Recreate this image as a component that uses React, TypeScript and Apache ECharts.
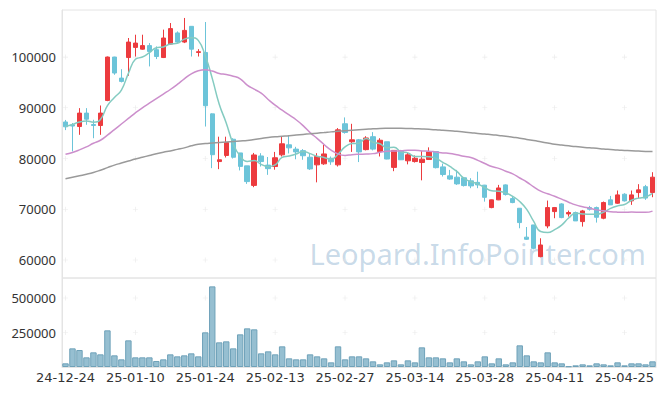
import React, { useEffect, useRef } from "react";
import * as echarts from "echarts";

const dates = [
  "24-12-24", "24-12-26", "24-12-27", "24-12-30", "25-01-02", "25-01-03", "25-01-06", "25-01-07", "25-01-08", "25-01-09",
  "25-01-10", "25-01-13", "25-01-14", "25-01-15", "25-01-16", "25-01-17", "25-01-20", "25-01-21", "25-01-22", "25-01-23",
  "25-01-24", "25-01-31", "25-02-03", "25-02-04", "25-02-05", "25-02-06", "25-02-07", "25-02-10", "25-02-11", "25-02-12",
  "25-02-13", "25-02-14", "25-02-17", "25-02-18", "25-02-19", "25-02-20", "25-02-21", "25-02-24", "25-02-25", "25-02-26",
  "25-02-27", "25-02-28", "25-03-04", "25-03-05", "25-03-06", "25-03-07", "25-03-10", "25-03-11", "25-03-12", "25-03-13",
  "25-03-14", "25-03-17", "25-03-18", "25-03-19", "25-03-20", "25-03-21", "25-03-24", "25-03-25", "25-03-26", "25-03-27",
  "25-03-28", "25-03-31", "25-04-01", "25-04-02", "25-04-03", "25-04-04", "25-04-07", "25-04-08", "25-04-09", "25-04-10",
  "25-04-11", "25-04-14", "25-04-15", "25-04-16", "25-04-17", "25-04-18", "25-04-21", "25-04-22", "25-04-23", "25-04-24",
  "25-04-25", "25-04-28", "25-04-29", "25-04-30", "25-05-02",
];

const opens = [
  87200, 86640, 86300, 88950, 86700, 86500, 91450, 100000, 95850, 99900,
  101900, 101550, 102250, 101450, 99900, 102550, 104750, 102950, 106050, 100900,
  100900, 88800, 79400, 80600, 83800, 81100, 78550, 74700, 80500, 78700,
  78420, 80720, 82700, 81850, 81550, 80250, 78750, 78950, 80050, 78750,
  86850, 83300, 83680, 81750, 84300, 81380, 83300, 78250, 81500, 79550,
  79400, 79210, 79800, 81380, 78350, 76580, 76320, 76200, 75600, 75300,
  74750, 70330, 71850, 74800, 72100, 70200, 64500, 66910, 60660, 66710,
  69540, 71050, 69080, 69350, 67570, 70330, 70330, 68230, 71850, 71190,
  72960, 71650, 73290, 74450, 73290,
];

const closes = [
  86250, 86400, 88950, 87750, 86500, 88950, 100000, 96850, 95200, 102950,
  102750, 102250, 101100, 100100, 103750, 105600, 102950, 105250, 101550, 101050,
  90400, 80750, 79750, 83150, 80250, 78450, 75450, 80700, 79400, 78000,
  80150, 82900, 82100, 81300, 80550, 77950, 80400, 80900, 79350, 85650,
  85130, 83680, 81300, 84050, 81850, 83600, 79900, 81600, 79750, 80720,
  80050, 79870, 81300, 78200, 76850, 75950, 75000, 74670, 74600, 74800,
  72350, 71850, 74200, 72900, 71320, 67370, 64080, 62300, 62960, 70330,
  70330, 68360, 69350, 67700, 69670, 70000, 68420, 71320, 70860, 72830,
  71650, 72830, 73820, 72200, 76320,
];

const lows = [
  85600, 81400, 84670, 86640, 84000, 84670, 91300, 96500, 95000, 96300,
  100100, 101450, 98150, 99600, 99800, 102450, 102750, 102750, 100100, 100100,
  86300, 78100, 77900, 80200, 80000, 77650, 75000, 74350, 78420, 76780,
  77800, 80400, 81000, 79850, 79750, 77750, 75300, 78750, 78750, 78420,
  84900, 81300, 79300, 81600, 81600, 80400, 79850, 77500, 79700, 78850,
  79200, 75700, 79750, 78050, 76450, 75800, 74800, 74480, 74150, 74150,
  71500, 70200, 71800, 72700, 71190, 66250, 63950, 62100, 60530, 66250,
  68230, 68230, 68560, 67700, 66580, 69740, 67370, 68030, 70860, 71060,
  71520, 70860, 72170, 71850, 72370,
];

const highs = [
  87600, 87000, 89930, 89930, 87630, 90450, 100100, 100050, 97600, 103750,
  104400, 104400, 102750, 102100, 105400, 106700, 105050, 107700, 106100, 101550,
  106900, 88900, 84300, 84300, 84000, 81100, 78550, 81100, 81050, 80300,
  81300, 84400, 84600, 82300, 81850, 81000, 81050, 82700, 80400, 86000,
  88100, 86840, 83850, 84400, 85200, 84000, 83300, 81600, 81700, 81100,
  80600, 81500, 82200, 81380, 79000, 77760, 77760, 76300, 76120, 77400,
  74800, 71900, 74800, 74900, 72600, 70200, 66500, 66910, 64280, 71710,
  70400, 71190, 69740, 69540, 69870, 70660, 70530, 71520, 72630, 73690,
  73160, 73690, 74940, 74800, 77300,
];

const volumes = [
  26600, 135200, 123200, 70000, 106300, 91800, 265700, 84500, 55500, 193200,
  70000, 70000, 70000, 43500, 55500, 91800, 77300, 84500, 99000, 77300,
  251200, 584400, 178700, 186000, 135200, 236700, 280100, 272900, 99000, 113500,
  91800, 149700, 62800, 55500, 55500, 91800, 77300, 62800, 33800, 149700,
  55500, 77300, 77300, 62800, 41100, 19300, 33800, 48300, 19300, 48300,
  33800, 142500, 70000, 70000, 62800, 33800, 62800, 41100, 19300, 41100,
  77300, 26600, 62800, 19300, 33800, 157000, 84500, 41100, 33800, 106300,
  33800, 26600, 4800, 12100, 19300, 12100, 26600, 19300, 12100, 33800,
  12100, 26600, 26600, 19300, 41100,
];

const ma5 = [
  86300, 86700, 87200, 87400, 87170, 87710, 90430, 92010, 93500, 96790,
  99550, 100000, 100850, 101830, 101990, 102560, 102700, 103530, 103820, 103280,
  100240, 95800, 90700, 87020, 82860, 80470, 79410, 79600, 78850, 78400,
  78740, 80230, 80510, 80890, 81400, 80960, 80460, 80220, 79830, 80850,
  82286, 82942, 83022, 83962, 83202, 82896, 82140, 82200, 81340, 81114,
  80404, 80398, 80338, 80028, 79254, 78434, 77460, 76134, 75414, 75004,
  74284, 73654, 73560, 73220, 72524, 71528, 69974, 67594, 65606, 65408,
  66000, 66856, 68266, 69214, 69082, 69016, 69028, 69422, 70172, 70666,
  70930, 71772, 72192, 72412, 73112,
];

const ma20 = [
  80850, 81200, 81700, 82300, 83000, 83600, 84600, 85700, 86800, 87900,
  89000, 90000, 90900, 91800, 92700, 93600, 94600, 95700, 96700, 97308,
  97515, 97233, 96773, 96543, 96230, 95705, 94478, 93670, 92880, 91633,
  90503, 89535, 88585, 87645, 86485, 85103, 83975, 82758, 81648, 80878,
  80614, 80761, 80838, 80883, 80963, 81221, 81443, 81488, 81506, 81642,
  81637, 81485, 81445, 81290, 81105, 81005, 80735, 80424, 80186, 79644,
  79005, 78413, 78058, 77501, 76974, 76163, 75372, 74407, 73567, 73048,
  72562, 71986, 71389, 70864, 70505, 70207, 69878, 69711, 69524, 69425,
  69390, 69439, 69420, 69385, 69635,
];

const ma120 = [
  76000, 76300, 76600, 76900, 77250, 77700, 78200, 78700, 79100, 79500,
  79900, 80250, 80600, 80950, 81250, 81500, 81800, 82100, 82500, 82800,
  82950, 83050, 83150, 83250, 83350, 83450, 83550, 83750, 83950, 84150,
  84300, 84400, 84500, 84620, 84750, 84870, 85000, 85120, 85250, 85350,
  85450, 85550, 85650, 85750, 85850, 85920, 85960, 85980, 85960, 85920,
  85870, 85820, 85760, 85680, 85560, 85450, 85350, 85230, 85100, 84950,
  84820, 84700, 84550, 84400, 84200, 84000, 83750, 83550, 83300, 83050,
  82800, 82650, 82500, 82350, 82220, 82100, 82000, 81880, 81780, 81680,
  81600, 81520, 81460, 81400, 81380,
];

const priceTicks = [60000, 70000, 80000, 90000, 100000];
const volumeTicks = [250000, 500000];
const labelStep = 10;

const UP = "#ec3b3e";
const DOWN = "#6cc4d9";
const CROSS = "path://M0,4.3h10v1.4h-10z M4.3,0h1.4v10h-1.4z";

export default function App() {
  const ref = useRef<HTMLDivElement>(null);

  useEffect(() => {
    if (!ref.current) return;
    const chart = echarts.init(ref.current, null, { renderer: "svg" });

    const candles = dates.map((_, i) => [opens[i], closes[i], lows[i], highs[i]]);
    const labelIdx = dates.map((_, i) => i).filter((i) => i % labelStep === 0);
    const priceCross: number[][] = [];
    labelIdx.forEach((i) => priceTicks.forEach((v) => priceCross.push([i, v])));
    const volCross: number[][] = [];
    labelIdx.forEach((i) => volumeTicks.forEach((v) => volCross.push([i, v])));

    const borderColor = "#e4e4e4";
    const plain = (v: number) => String(v);

    const option: any = {
      animation: false,
      backgroundColor: "#ffffff",
      grid: [
        { left: 62, right: 9, top: 10, height: 268, show: true, borderColor, borderWidth: 1 },
        { left: 62, right: 9, top: 278, height: 89, show: true, borderColor, borderWidth: 1 },
      ],
      xAxis: [
        {
          type: "category",
          gridIndex: 0,
          data: dates,
          boundaryGap: true,
          axisLine: { show: false },
          axisTick: { show: false },
          axisLabel: { show: false },
          splitLine: { show: false },
        },
        {
          type: "category",
          gridIndex: 1,
          data: dates,
          boundaryGap: true,
          axisLine: { show: true, lineStyle: { color: borderColor } },
          axisTick: { show: false },
          splitLine: { show: false },
          axisLabel: {
            interval: labelStep - 1,
            color: "#333",
            fontSize: 13,
            fontFamily: "DejaVu Sans",
            margin: 4,
          },
        },
      ],
      yAxis: [
        {
          type: "value",
          gridIndex: 0,
          min: 56450,
          max: 109270,
          splitNumber: 5,
          axisLine: { show: true, lineStyle: { color: borderColor } },
          axisTick: { show: false },
          splitLine: { show: false },
          axisLabel: {
            color: "#333",
            fontSize: 13,
            fontFamily: "Noto Sans",
            margin: 6,
            formatter: plain,
            showMinLabel: false,
            showMaxLabel: false,
          },
        },
        {
          type: "value",
          gridIndex: 1,
          min: 0,
          max: 645000,
          interval: 250000,
          axisLine: { show: true, lineStyle: { color: borderColor } },
          axisTick: { show: false },
          splitLine: { show: false },
          axisLabel: {
            color: "#333",
            fontSize: 13,
            fontFamily: "Noto Sans",
            margin: 6,
            formatter: plain,
            showMinLabel: false,
            showMaxLabel: false,
          },
        },
      ],
      graphic: [
        {
          type: "text",
          z: 0,
          silent: true,
          style: {
            text: "Leopard.InfoPointer.com",
            x: 646,
            y: 253,
            align: "right",
            verticalAlign: "middle",
            fontSize: 29,
            fontFamily: "Noto Sans",
            fill: "rgba(70,130,180,0.3)",
          },
        },
      ],
      series: [
        {
          type: "scatter",
          xAxisIndex: 0,
          yAxisIndex: 0,
          data: priceCross,
          symbol: CROSS,
          symbolSize: 5,
          silent: true,
          z: 1,
          itemStyle: { color: "#e6e6e6" },
        },
        {
          type: "scatter",
          xAxisIndex: 1,
          yAxisIndex: 1,
          data: volCross,
          symbol: CROSS,
          symbolSize: 5,
          silent: true,
          z: 1,
          itemStyle: { color: "#e6e6e6" },
        },
        {
          type: "candlestick",
          xAxisIndex: 0,
          yAxisIndex: 0,
          data: candles,
          barWidth: "70%",
          z: 3,
          itemStyle: {
            color: UP,
            color0: DOWN,
            borderColor: UP,
            borderColor0: DOWN,
            borderWidth: 1,
          },
        },
        {
          type: "line",
          name: "MA5",
          xAxisIndex: 0,
          yAxisIndex: 0,
          data: ma5,
          smooth: true,
          symbol: "none",
          z: 4,
          lineStyle: { color: "#84cbc1", width: 1.5 },
        },
        {
          type: "line",
          name: "MA20",
          xAxisIndex: 0,
          yAxisIndex: 0,
          data: ma20,
          smooth: true,
          symbol: "none",
          z: 4,
          lineStyle: { color: "#cc8fcc", width: 1.5 },
        },
        {
          type: "line",
          name: "MA120",
          xAxisIndex: 0,
          yAxisIndex: 0,
          data: ma120,
          smooth: true,
          symbol: "none",
          z: 4,
          lineStyle: { color: "#9a9a9a", width: 1.5 },
        },
        {
          type: "bar",
          xAxisIndex: 1,
          yAxisIndex: 1,
          data: volumes,
          barCategoryGap: "8%",
          z: 3,
          itemStyle: { color: "#96bfd1", borderColor: "#6fa2b9", borderWidth: 1 },
        },
      ],
    };

    chart.setOption(option);
    return () => chart.dispose();
  }, []);

  return (
    <div
      ref={ref}
      style={{ position: "absolute", left: 0, top: 0, width: 665, height: 396 }}
    />
  );
}
